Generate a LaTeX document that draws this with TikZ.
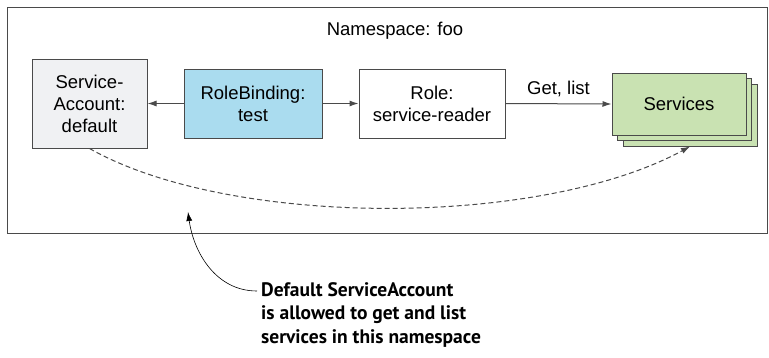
\documentclass[tikz,border=0pt]{standalone}
\usepackage{fontspec}
\setmainfont{Liberation Sans}
\newfontfamily\notefont{PT Sans}
\usetikzlibrary{positioning}
\usetikzlibrary{arrows.meta}
\usepackage{xcolor}
\definecolor{frame}{HTML}{4A4A4A}
\definecolor{grey}{HTML}{F0F1F3}
\definecolor{blue}{HTML}{AADCEF}
\definecolor{green}{HTML}{C9E2B2}

\begin{document}
\begin{tikzpicture}[x=1pt, y=-1pt,
		box/.style = {rectangle, draw=frame, line width=1pt, inner sep=0pt, align=center,
			font=\fontsize{18.5}{22}\selectfont},
		sa/.style = {box, fill=grey,	minimum width=115, minimum height=89},
		rb/.style = {box, fill=blue,	minimum width=138, minimum height=69},
		rl/.style = {box, fill=white,	minimum width=146, minimum height=69},
		sv/.style = {box, fill=green,	minimum width=134, minimum height=62},
		r/.style = {-{Latex[length=9pt, width=6pt]}, draw=frame, line width=1pt},
		d/.style = {r, dashed, dash pattern=on 5pt off 3pt}
		]
		
		\useasboundingbox (0, 0) rectangle (769, 357);
		
		% === === Frame === ===
		\node[draw=frame, line width=1pt, minimum width=760, minimum height=226, inner sep=0pt]
			(ns)	at	(387, 120)	{};
		\node[font=\fontsize{18.5}{22}\selectfont]	(nslabel)	at	(395, 31)	{Namespace: foo};
		
		
		% === === Nodes === ===
		\node[sa]	(sa)	at	(89.5, 103.5)	{Service-\\Account:\\default};
		\node[rb]	(rb)	at	(253, 103.5)	{RoleBinding:\\test};
		\node[rl]	(role)	at	(432, 103.5)	{Role:\\service-reader};
		\node[sv]	(svc3)	at	(690, 115)		{};
		\node[sv]	(svc2)	at	(684.5, 109.5)	{};
		\node[sv]	(svc1)	at	(679, 104)		{Services};
		
		\node[font=\notefont\bfseries\fontsize{19.5}{23.5}\selectfont, align=left, anchor=north west, inner sep=0pt]
			(note)	at	(261, 282)	{Default ServiceAccount\\is allowed to get and list\\services in this namespace};
		
		
		% === === Lines === ===
		\draw[r]	(rb.west)	to	(sa.east);
		\draw[r]	(rb.east)	to	(role.west);
		\draw[r]	(role.east)	to	node[above=3pt, font=\fontsize{18.5}{22}\selectfont]	{Get, list}	(svc1.west);
		\draw[d]	(sa.south)	.. controls (230, 228) and (540, 228) ..	(svc3.south);
		\draw[-{Latex[length=9pt, width=6pt]}, line width=0.6pt]	([xshift=-4pt, yshift=-9pt]note.north west)	to[out=180, in=-82]	(188, 212);
		
		
	\end{tikzpicture}
\end{document}
